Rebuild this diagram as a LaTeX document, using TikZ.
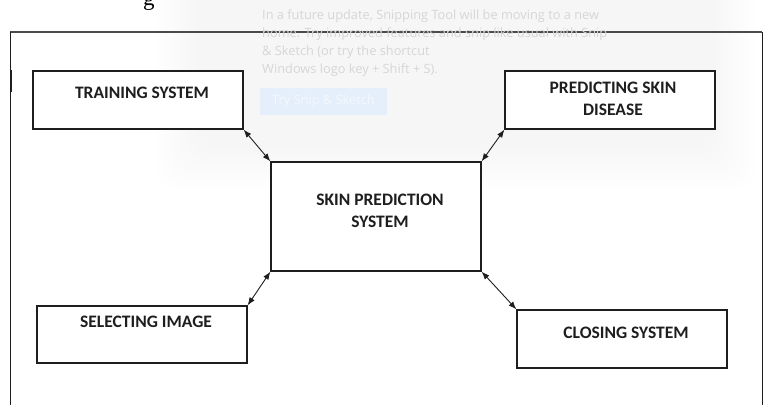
\documentclass[tikz,border=0pt]{standalone}
\usepackage{fontspec}
\setmainfont{Carlito}
\newfontfamily\uifont{Open Sans}
\newfontfamily\serifface{Liberation Serif}
\usetikzlibrary{arrows.meta}

\definecolor{inkdark}{HTML}{1E1E1E}
\definecolor{framegray}{HTML}{4A4A4A}
\definecolor{popuptext}{HTML}{D6D6D6}
\definecolor{btnfill}{HTML}{E4EFFB}
\definecolor{btntext}{HTML}{F4F8FE}

\tikzset{
  block/.style={draw=inkdark, line width=1.2pt, fill=white, inner sep=0pt,
                minimum width=210pt},
  blocktext/.style={font=\bfseries\fontsize{17.5}{22}\selectfont, text=inkdark,
                    align=center, inner sep=0pt},
  link/.style={draw=inkdark, line width=0.9pt,
               {Latex[length=8pt,width=6pt]}-{Latex[length=8pt,width=6pt]}},
  popupline/.style={font=\uifont\fontsize{12.8}{18}\selectfont, text=popuptext,
                    anchor=base west, inner sep=0pt},
}

\begin{document}
\begin{tikzpicture}[x=1pt,y=-1pt]
\useasboundingbox (0,0) rectangle (768,405);
\fill[white] (0,0) rectangle (768,405);

% soft shadow left by the notification window
\foreach \d in {0,5,...,40}{
  \fill[black, opacity=0.0038, rounded corners=24pt]
    (195-\d,-30) rectangle (715+\d,150+\d);
}

% cut-off caption letter above the figure
\node[font=\serifface\fontsize{23}{23}\selectfont, anchor=base west,
      inner sep=0pt, text=black] (capg) at (143,5) {g};

% outer frame
\draw[framegray, line width=1.8pt] (10,32) -- (762,32);
\draw[inkdark, line width=1pt] (10,32) -- (10,405);
\draw[inkdark, line width=1pt] (762,32) -- (762,405);
\draw[inkdark, line width=2pt] (10.5,70) -- (10.5,92);

% blocks
\node[block, minimum height=58pt]  (train)  at (138,100)   {};
\node[block, minimum height=58pt]  (pred)   at (610,100)   {};
\node[block, minimum height=109pt] (core)   at (376,216.5) {};
\node[block, minimum height=57pt]  (select) at (142,334.5) {};
\node[block, minimum height=58pt]  (close)  at (622,339)   {};

% block captions
\node[blocktext] (trainT)  at (142,93)    {TRAINING SYSTEM};
\node[blocktext] (predT)   at (613,99)    {PREDICTING SKIN\\DISEASE};
\node[blocktext] (coreT)   at (380,210.5) {SKIN PREDICTION\\SYSTEM};
\node[blocktext] (selectT) at (146,322)   {SELECTING IMAGE};
\node[blocktext] (closeT)  at (626,333)   {CLOSING SYSTEM};

% two-way links
\draw[link] (train.south east) -- (core.north west);
\draw[link] (pred.south west)  -- (core.north east);
\draw[link] (select.north east) -- (core.south west);
\draw[link] (close.north west) -- (core.south east);

% faded notification text
\node[popupline] (pop1) at (262,19) {In a future update, Snipping Tool will be moving to a new};
\node[popupline] (pop2) at (262,37) {home. Try improved features and snip like usual with Snip};
\node[popupline] (pop3) at (262,55) {\& Sketch (or try the shortcut};
\node[popupline] (pop4) at (262,73) {Windows logo key + Shift + S).};
\node[fill=btnfill, minimum width=127pt, minimum height=27pt, inner sep=0pt]
  (btn) at (323.5,101.5) {};
\node[font=\uifont\fontsize{12.8}{14}\selectfont, text=btntext, inner sep=0pt]
  (btnT) at (btn.center) {Try Snip \& Sketch};
\end{tikzpicture}
\end{document}
